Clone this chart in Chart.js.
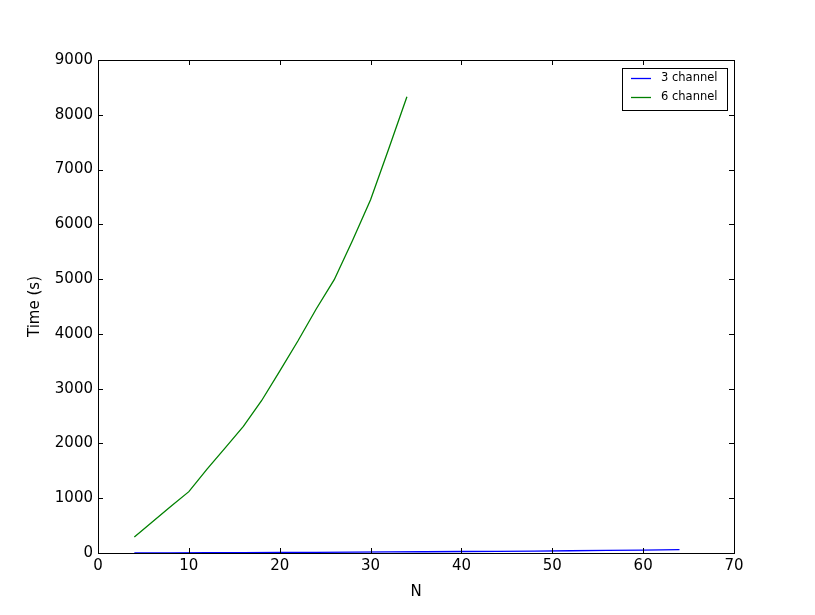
<!DOCTYPE html>
<html lang="en">
<head>
    <meta charset="utf-8">
    <title>Time vs N</title>
<script src="https://cdn.jsdelivr.net/npm/chart.js@4.4.0/dist/chart.umd.min.js"></script>
<style>
  body { margin: 0; background: #fff; }
</style>
</head>

<body>
<canvas id="mycanvas" width="815" height="615"></canvas>

<script>
// data
var nThree = [4, 8, 12, 16, 20, 24, 28, 32, 36, 40, 44, 48, 52, 56, 60, 64];
var timeThree = [2, 4, 6, 8, 10, 13, 16, 19, 23, 27, 31, 36, 41, 47, 53, 60];

var nSix = [4, 6, 8, 10, 12, 14, 16, 18, 20, 22, 24, 26, 28, 30, 32, 34];
var timeSix = [290, 570, 850, 1120, 1530, 1920, 2310, 2780, 3320, 3870, 4450, 4990, 5700, 6450, 7380, 8330];

var seriesLabels = ['3 channel', '6 channel'];
var seriesColors = ['#0000ff', '#008000'];

function toPoints(xs, ys) {
  var pts = [];
  for (var i = 0; i < xs.length; i++) pts.push({x: xs[i], y: ys[i]});
  return pts;
}

var fontFam = '"DejaVu Sans", sans-serif';

// frame + inward ticks on all four sides, and the boxed legend
var framePlugin = {
  id: 'frame',
  afterDraw: function(chart) {
    var ctx = chart.ctx;
    var a = chart.chartArea;
    var xs = chart.scales.x, ys = chart.scales.y;
    var tl = 5;
    ctx.save();
    ctx.strokeStyle = '#000';
    ctx.lineWidth = 1;
    xs.ticks.forEach(function(t) {
      var px = Math.round(xs.getPixelForValue(t.value)) + 0.5;
      ctx.beginPath();
      ctx.moveTo(px, a.bottom); ctx.lineTo(px, a.bottom - tl);
      ctx.moveTo(px, a.top); ctx.lineTo(px, a.top + tl);
      ctx.stroke();
    });
    ys.ticks.forEach(function(t) {
      var py = Math.round(ys.getPixelForValue(t.value)) + 0.5;
      ctx.beginPath();
      ctx.moveTo(a.left, py); ctx.lineTo(a.left + tl, py);
      ctx.moveTo(a.right, py); ctx.lineTo(a.right - tl, py);
      ctx.stroke();
    });
    ctx.strokeRect(Math.round(a.left) + 0.5, Math.round(a.top) + 0.5,
                   Math.round(a.right - a.left), Math.round(a.bottom - a.top));

    // legend
    var bx = a.right - 112, by = a.top + 8, bw = 105, bh = 42;
    ctx.fillStyle = '#fff';
    ctx.fillRect(bx, by, bw, bh);
    ctx.strokeRect(bx + 0.5, by + 0.5, bw, bh);
    ctx.font = '11.5px ' + fontFam;
    ctx.textBaseline = 'middle';
    chart.data.datasets.forEach(function(ds, i) {
      var ly = by + 10.5 + i * 19;
      ctx.strokeStyle = ds.borderColor;
      ctx.lineWidth = 1.3;
      ctx.beginPath();
      ctx.moveTo(bx + 9, ly); ctx.lineTo(bx + 29, ly);
      ctx.stroke();
      ctx.fillStyle = '#000';
      ctx.fillText(ds.label, bx + 39, ly);
    });
    ctx.restore();
  }
};

var chartdata = {
  datasets: [
    {
      label: seriesLabels[0],
      data: toPoints(nThree, timeThree),
      borderColor: seriesColors[0],
      borderWidth: 1.3,
      pointRadius: 0,
      fill: false,
      tension: 0
    },
    {
      label: seriesLabels[1],
      data: toPoints(nSix, timeSix),
      borderColor: seriesColors[1],
      borderWidth: 1.3,
      pointRadius: 0,
      fill: false,
      tension: 0
    }
  ]
};

var ctx = document.getElementById('mycanvas');

var plainTick = function(value) { return String(value); };

var lineGraph = new Chart(ctx, {
  type: 'line',
  data: chartdata,
  plugins: [framePlugin],
  options: {
    responsive: false,
    animation: false,
    layout: { padding: { top: 60, right: 81, left: 0, bottom: 0 } },
    plugins: {
      legend: { display: false },
      tooltip: { enabled: false }
    },
    scales: {
      x: {
        type: 'linear',
        min: 0,
        max: 70,
        border: { display: false },
        grid: { display: false, drawTicks: false },
        ticks: { stepSize: 10, color: '#000', padding: 4, maxRotation: 0, callback: plainTick,
                 font: { family: fontFam, size: 15 } },
        title: { display: true, text: 'N', color: '#000', padding: { top: 0, bottom: 14 },
                 font: { family: fontFam, size: 15 } },
        afterFit: function(scale) { scale.height = 62; }
      },
      y: {
        type: 'linear',
        min: 0,
        max: 9000,
        border: { display: false },
        grid: { display: false, drawTicks: false },
        ticks: { stepSize: 1000, color: '#000', padding: 5, callback: plainTick,
                 font: { family: fontFam, size: 15 } },
        title: { display: true, text: 'Time (s)', color: '#000', padding: { top: 26, bottom: 0 },
                 font: { family: fontFam, size: 15 } },
        afterFit: function(scale) { scale.width = 98; }
      }
    }
  }
});
</script>

</body>
</html>
